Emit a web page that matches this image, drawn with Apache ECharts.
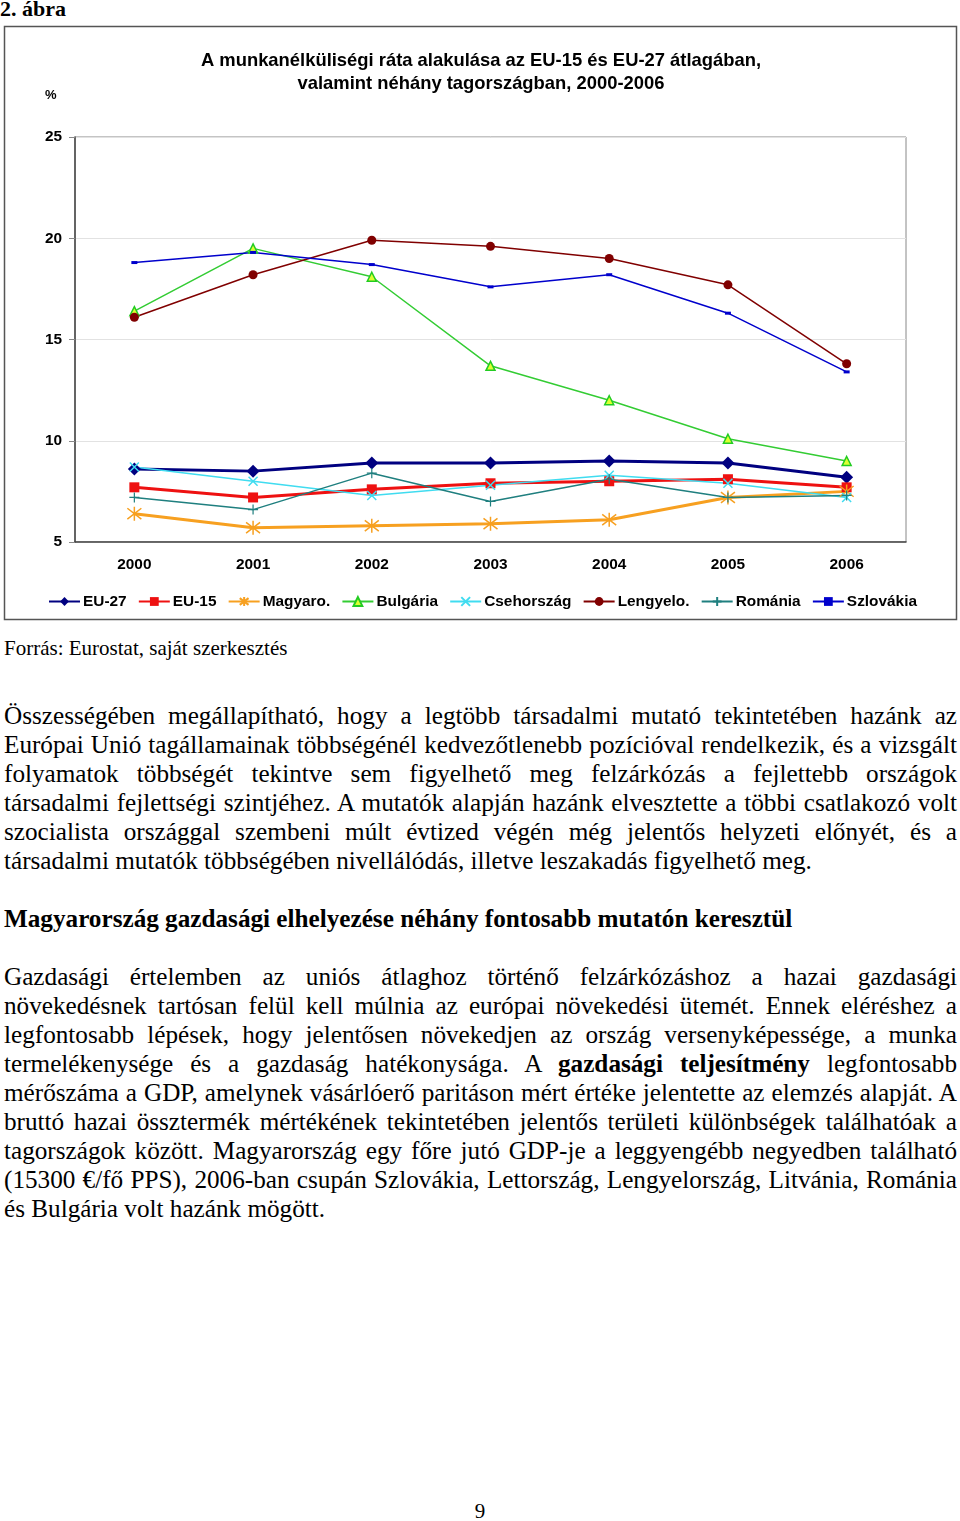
<!DOCTYPE html>
<html>
<head>
<meta charset="utf-8">
<script src="https://cdn.jsdelivr.net/npm/echarts@6/dist/echarts.min.js"></script>
<style>
  html, body { margin: 0; padding: 0; background: #fff; }
  body { width: 960px; height: 1521px; position: relative; overflow: hidden; font-family: "Liberation Serif", "Times New Roman", serif; color: #000; }
  #fig { position: absolute; left: 0; top: -2px; font-weight: bold; font-size: 22px; line-height: 22px; }
  #chart { position: absolute; left: 0; top: 0; width: 960px; height: 630px; }
  .src { position: absolute; left: 4px; top: 635px; font-size: 21px; line-height: 26px; }
  .block { position: absolute; left: 4px; width: 953px; font-size: 25.2px; line-height: 29px; }
  .block div { text-align: justify; text-align-last: justify; white-space: nowrap; }
  .block div.last { text-align-last: left; }
  .h { position: absolute; left: 4px; top: 904px; font-size: 25.2px; line-height: 29px; font-weight: bold; white-space: nowrap; }
  .pg { position: absolute; left: 0; width: 960px; text-align: center; top: 1499px; font-size: 21px; line-height: 24px; }
</style>
</head>
<body>
<div id="fig">2. ábra</div>
<div id="chart"></div>
<div class="src">Forrás: Eurostat, saját szerkesztés</div>
<div class="block" style="top:701px">
  <div>Összességében megállapítható, hogy a legtöbb társadalmi mutató tekintetében hazánk az</div>
  <div>Európai Unió tagállamainak többségénél kedvezőtlenebb pozícióval rendelkezik, és a vizsgált</div>
  <div>folyamatok többségét tekintve sem figyelhető meg felzárkózás a fejlettebb országok</div>
  <div>társadalmi fejlettségi szintjéhez. A mutatók alapján hazánk elvesztette a többi csatlakozó volt</div>
  <div>szocialista országgal szembeni múlt évtized végén még jelentős helyzeti előnyét, és a</div>
  <div class="last">társadalmi mutatók többségében nivellálódás, illetve leszakadás figyelhető meg.</div>
</div>
<div class="h">Magyarország gazdasági elhelyezése néhány fontosabb mutatón keresztül</div>
<div class="block" style="top:962px">
  <div>Gazdasági értelemben az uniós átlaghoz történő felzárkózáshoz a hazai gazdasági</div>
  <div>növekedésnek tartósan felül kell múlnia az európai növekedési ütemét. Ennek eléréshez a</div>
  <div>legfontosabb lépések, hogy jelentősen növekedjen az ország versenyképessége, a munka</div>
  <div>termelékenysége és a gazdaság hatékonysága. A <b>gazdasági teljesítmény</b> legfontosabb</div>
  <div>mérőszáma a GDP, amelynek vásárlóerő paritáson mért értéke jelentette az elemzés alapját. A</div>
  <div>bruttó hazai össztermék mértékének tekintetében jelentős területi különbségek találhatóak a</div>
  <div>tagországok között. Magyarország egy főre jutó GDP-je a leggyengébb negyedben található</div>
  <div>(15300 €/fő PPS), 2006-ban csupán Szlovákia, Lettország, Lengyelország, Litvánia, Románia</div>
  <div class="last">és Bulgária volt hazánk mögött.</div>
</div>
<div class="pg">9</div>
<script>
const years = ['2000', '2001', '2002', '2003', '2004', '2005', '2006'];
const eu27      = [8.6, 8.5, 8.9, 8.9, 9.0, 8.9, 8.2];
const eu15      = [7.7, 7.2, 7.6, 7.9, 8.0, 8.1, 7.7];
const magyaro   = [6.4, 5.7, 5.8, 5.9, 6.1, 7.2, 7.5];
const bulgaria  = [16.4, 19.5, 18.1, 13.7, 12.0, 10.1, 9.0];
const csehorszag= [8.7, 8.0, 7.3, 7.8, 8.3, 7.9, 7.2];
const lengyelo  = [16.1, 18.2, 19.9, 19.6, 19.0, 17.7, 13.8];
const romania   = [7.2, 6.6, 8.4, 7.0, 8.1, 7.2, 7.3];
const szlovakia = [18.8, 19.3, 18.7, 17.6, 18.2, 16.3, 13.4];
const yTicks = [5, 10, 15, 20, 25];
const titleLines = ['A munkanélküliségi ráta alakulása az EU-15 és EU-27 átlagában,', 'valamint néhány tagországban, 2000-2006'];
const unitLabel = '%';

const SANS = '"Liberation Sans", Arial, sans-serif';
const ASTER = 'path://M0,0L10,10M10,0L0,10M5,-1.5L5,11.5';
const XMARK = 'path://M0,0L10,10M10,0L0,10';
const PLUS  = 'path://M5,0L5,10M0,5L10,5';

function mk(name, data, color, width, symbol, size, extra) {
  return Object.assign({
    name: name, type: 'line', data: data, symbol: symbol, symbolSize: size,
    showAllSymbol: true,
    lineStyle: { color: color, width: width },
    itemStyle: { color: color, borderColor: color, borderWidth: 0 },
    emphasis: { disabled: true },
    animation: false
  }, extra || {});
}

const chart = echarts.init(document.getElementById('chart'), null, { renderer: 'canvas' });
chart.setOption({
  animation: false,
  title: {
    text: titleLines.join('\n'),
    left: 476, top: 44, textAlign: 'center',
    textStyle: { fontFamily: SANS, fontWeight: 'bold', fontSize: 18.4, lineHeight: 23, color: '#000' }
  },
  graphic: [
    { type: 'rect', shape: { x: 4.5, y: 26.5, width: 952, height: 593 }, style: { fill: 'none', stroke: '#555', lineWidth: 1.5 }, silent: true, z: -1 },
    { type: 'text', left: 45, top: 89, style: { text: unitLabel, fontFamily: SANS, fontSize: 13, fontWeight: 'bold', fill: '#000' } }
  ],
  legend: {
    left: 43, top: 589, itemWidth: 31, itemHeight: 11, itemGap: 11.2,
    textStyle: { fontFamily: SANS, fontWeight: 'bold', fontSize: 15.4, color: '#000', padding: [0, 0, 0, -2] },
    data: ['EU-27', 'EU-15', 'Magyaro.', 'Bulgária', 'Csehország', 'Lengyelo.', 'Románia', 'Szlovákia']
  },
  grid: { left: 75, top: 137, width: 831, height: 405, show: true, borderColor: '#888', borderWidth: 1 },
  xAxis: {
    type: 'category', data: years, boundaryGap: true,
    axisLine: { lineStyle: { color: '#444', width: 1.5 } },
    axisTick: { show: false },
    axisLabel: { fontFamily: SANS, fontWeight: 'bold', fontSize: 15.4, color: '#000', margin: 15 }
  },
  yAxis: {
    type: 'value', min: yTicks[0], max: yTicks[yTicks.length - 1], interval: 5,
    axisLine: { show: true, lineStyle: { color: '#444', width: 1.5 } },
    axisTick: { show: true, length: 6, lineStyle: { color: '#888' } },
    splitLine: { lineStyle: { color: '#e2e2e2', width: 1 } },
    axisLabel: { fontFamily: SANS, fontWeight: 'bold', fontSize: 15.4, color: '#000', margin: 13 }
  },
  series: [
    mk('EU-27', eu27, '#000080', 3, 'diamond', 13),
    mk('EU-15', eu15, '#ee1111', 3, 'rect', 10),
    mk('Magyaro.', magyaro, '#f7a020', 3, ASTER, 14, { itemStyle: { color: '#f7a020', borderColor: '#f7a020', borderWidth: 1.5 } }),
    mk('Bulgária', bulgaria, '#33cc33', 1.5, 'triangle', 9, { itemStyle: { color: '#ddff33', borderColor: '#22cc22', borderWidth: 1.5 } }),
    mk('Csehország', csehorszag, '#40dcf0', 1.5, XMARK, 9, { itemStyle: { color: '#40dcf0', borderColor: '#40dcf0', borderWidth: 1.5 } }),
    mk('Lengyelo.', lengyelo, '#800000', 1.5, 'circle', 9),
    mk('Románia', romania, '#1f7f7f', 1.5, PLUS, 10, { itemStyle: { color: '#1f7f7f', borderColor: '#1f7f7f', borderWidth: 1.2 } }),
    mk('Szlovákia', szlovakia, '#0000cc', 1.5, 'rect', [6, 3])
  ]
});
</script>
</body>
</html>
